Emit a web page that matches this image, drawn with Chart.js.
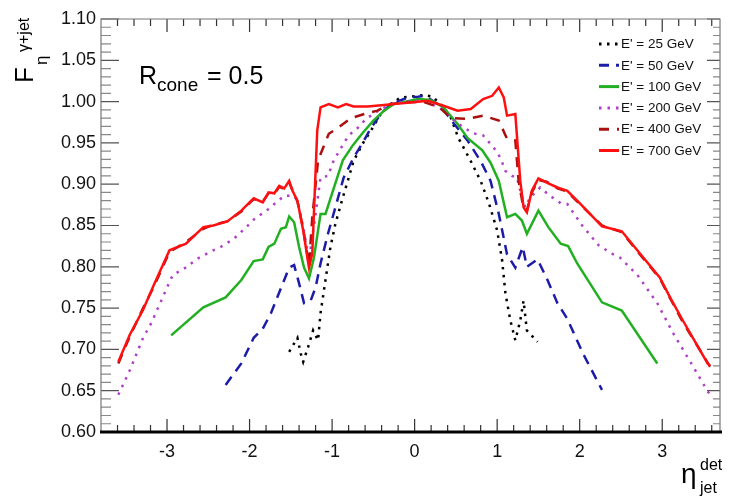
<!DOCTYPE html>
<html>
<head>
<meta charset="utf-8">
<script src="https://cdn.jsdelivr.net/npm/chart.js@4"></script>
<style>
  html, body { margin: 0; padding: 0; background: #fff; }
  #wrap { width: 729px; height: 498px; }
</style>
</head>
<body>
<div id="wrap"><canvas id="grafico"></canvas></div>
<script>
// eta (detector) bins and response values
const eta25 = [-1.52,-1.42,-1.38,-1.35,-1.29,-1.23,-1.17,-1.14,-1.08,-1.02,-0.96,-0.89,-0.81,-0.74,-0.63,-0.51,-0.41,-0.29,-0.17,0.04,0.11,0.22,0.35,0.44,0.53,0.68,0.80,0.90,1.00,1.06,1.10,1.16,1.22,1.28,1.32,1.36,1.49];
const f25 = [0.697,0.714,0.695,0.685,0.703,0.723,0.711,0.744,0.784,0.824,0.852,0.877,0.904,0.928,0.949,0.968,0.985,0.997,1.005,1.007,1.008,1.006,0.993,0.980,0.956,0.928,0.904,0.877,0.844,0.808,0.768,0.735,0.711,0.735,0.759,0.723,0.709];

const eta50 = [-2.29,-2.10,-1.95,-1.84,-1.74,-1.58,-1.52,-1.46,-1.40,-1.34,-1.26,-1.20,-1.14,-1.05,-0.96,-0.86,-0.74,-0.63,-0.53,-0.41,-0.29,-0.08,0.04,0.13,0.31,0.47,0.64,0.80,0.92,1.02,1.12,1.22,1.31,1.36,1.49,1.61,1.73,1.85,2.04,2.27];
const f50 = [0.657,0.683,0.714,0.725,0.744,0.784,0.799,0.802,0.780,0.756,0.759,0.775,0.804,0.840,0.872,0.908,0.932,0.950,0.968,0.985,0.997,1.005,1.006,1.007,0.995,0.974,0.953,0.928,0.904,0.864,0.815,0.799,0.824,0.800,0.809,0.784,0.756,0.737,0.695,0.651];

const eta100 = [-2.95,-2.56,-2.29,-2.10,-1.95,-1.84,-1.77,-1.70,-1.62,-1.56,-1.52,-1.46,-1.40,-1.34,-1.28,-1.22,-1.14,-1.08,-0.99,-0.87,-0.75,-0.63,-0.50,-0.37,-0.25,-0.10,0.04,0.19,0.35,0.52,0.64,0.82,0.92,1.02,1.12,1.22,1.30,1.36,1.50,1.62,1.77,1.86,1.97,2.27,2.51,2.94];
const f100 = [0.717,0.751,0.763,0.784,0.807,0.809,0.824,0.828,0.846,0.848,0.861,0.854,0.824,0.799,0.786,0.811,0.864,0.864,0.892,0.929,0.947,0.962,0.977,0.989,0.997,1.000,1.003,1.002,0.993,0.973,0.956,0.941,0.926,0.904,0.860,0.864,0.856,0.840,0.868,0.848,0.828,0.825,0.804,0.757,0.747,0.683];

const eta200 = [-3.59,-3.45,-3.29,-3.19,-3.07,-2.99,-2.93,-2.79,-2.63,-2.44,-2.35,-2.19,-2.04,-1.94,-1.77,-1.70,-1.58,-1.46,-1.42,-1.35,-1.28,-1.20,-1.14,-1.05,-0.98,-0.89,-0.80,-0.69,-0.59,-0.47,-0.29,-0.10,0.10,0.30,0.44,0.56,0.70,0.83,0.96,1.04,1.10,1.18,1.24,1.28,1.34,1.40,1.52,1.64,1.77,1.85,2.03,2.23,2.39,2.49,2.70,2.94,3.13,3.34,3.54,3.58];
const f200 = [0.645,0.675,0.714,0.732,0.759,0.777,0.790,0.798,0.810,0.820,0.824,0.834,0.848,0.858,0.870,0.876,0.886,0.886,0.880,0.848,0.808,0.864,0.908,0.910,0.929,0.944,0.959,0.968,0.979,0.987,0.997,1.000,1.001,0.993,0.980,0.971,0.962,0.959,0.944,0.932,0.916,0.910,0.908,0.892,0.872,0.884,0.896,0.886,0.877,0.876,0.850,0.826,0.816,0.811,0.790,0.756,0.720,0.685,0.651,0.645];

const eta400 = [-3.59,-3.45,-3.29,-3.16,-2.97,-2.77,-2.56,-2.44,-2.27,-2.10,-1.95,-1.84,-1.77,-1.70,-1.64,-1.58,-1.52,-1.48,-1.42,-1.35,-1.28,-1.24,-1.17,-1.04,-0.93,-0.77,-0.61,-0.45,-0.29,-0.10,0.10,0.30,0.44,0.64,0.83,1.02,1.12,1.22,1.26,1.32,1.36,1.42,1.50,1.60,1.73,1.85,2.00,2.27,2.51,2.73,2.97,3.10,3.25,3.55,3.58];
const f400 = [0.683,0.716,0.750,0.776,0.818,0.830,0.846,0.851,0.855,0.867,0.882,0.879,0.889,0.888,0.897,0.894,0.902,0.893,0.879,0.846,0.802,0.860,0.929,0.961,0.968,0.980,0.985,0.989,0.997,0.999,1.000,0.993,0.980,0.979,0.983,0.977,0.955,0.953,0.904,0.870,0.868,0.890,0.905,0.903,0.895,0.891,0.876,0.850,0.842,0.815,0.786,0.761,0.733,0.684,0.679];

const eta700 = [-3.59,-3.45,-3.29,-3.16,-2.97,-2.77,-2.56,-2.44,-2.27,-2.10,-1.95,-1.84,-1.77,-1.70,-1.64,-1.58,-1.52,-1.48,-1.42,-1.35,-1.28,-1.24,-1.18,-1.14,-1.04,-0.93,-0.83,-0.74,-0.57,-0.37,-0.25,0.07,0.16,0.35,0.52,0.68,0.83,0.94,1.02,1.08,1.12,1.22,1.28,1.32,1.36,1.42,1.50,1.60,1.73,1.85,2.00,2.27,2.51,2.73,2.97,3.10,3.25,3.55,3.58];
const f700 = [0.685,0.718,0.748,0.778,0.820,0.828,0.848,0.850,0.855,0.868,0.883,0.878,0.890,0.889,0.898,0.895,0.904,0.892,0.880,0.844,0.799,0.816,0.965,0.993,0.997,0.993,0.997,0.994,0.994,0.996,0.997,1.000,1.001,0.995,0.989,0.991,1.003,1.007,1.017,1.005,0.983,0.985,0.904,0.872,0.866,0.892,0.907,0.902,0.896,0.892,0.877,0.849,0.843,0.816,0.787,0.762,0.735,0.683,0.680];

const legendLabels = ["E' = 25 GeV", "E' = 50 GeV", "E' = 100 GeV", "E' = 200 GeV", "E' = 400 GeV", "E' = 700 GeV"];
const xTicks = [-3, -2, -1, 0, 1, 2, 3];
const yTicks = [0.60, 0.65, 0.70, 0.75, 0.80, 0.85, 0.90, 0.95, 1.00, 1.05, 1.10];

const FONT = "'Liberation Sans', Arial, Helvetica, sans-serif";

function pts(xs, ys) {
    return xs.map((x, i) => ({ x: x, y: ys[i] }));
}

const series = [
    { data: pts(eta25, f25), color: '#000000', dash: [2.5, 5.5], width: 2.5 },
    { data: pts(eta50, f50), color: '#1c1ca8', dash: [10, 7], width: 2.5 },
    { data: pts(eta100, f100), color: '#22b022', dash: [], width: 2.5 },
    { data: pts(eta200, f200), color: '#b040c8', dash: [2.5, 6], width: 2.5 },
    { data: pts(eta400, f400), color: '#aa1010', dash: [10, 8], width: 2.5 },
    { data: pts(eta700, f700), color: '#ff1010', dash: [], width: 2.5 }
];

const datasets = series.map((s, i) => ({
    label: legendLabels[i],
    data: s.data,
    borderColor: s.color,
    backgroundColor: s.color,
    borderDash: s.dash,
    borderWidth: s.width,
    pointRadius: 0,
    tension: 0,
    fill: false,
    order: series.length - i
}));

// ROOT style decorations: inner ticks, frame, legend and titles
const decor = {
    id: 'decor',
    beforeDatasetsDraw(chart) {
        const ctx = chart.ctx;
        const a = chart.chartArea;
        const sx = chart.scales.x, sy = chart.scales.y;
        ctx.save();
        ctx.lineWidth = 1.2;
        // x ticks, bottom and top
        for (let k = -19; k <= 18; k++) {
            const v = k * 0.2;
            const px = sx.getPixelForValue(v);
            if (px < a.left + 1 || px > a.right - 1) continue;
            const major = Math.abs(v - Math.round(v)) < 1e-6;
            const len = major ? 13 : 7;
            ctx.strokeStyle = '#333';
            ctx.beginPath();
            ctx.moveTo(px, a.bottom); ctx.lineTo(px, a.bottom - len);
            ctx.moveTo(px, a.top); ctx.lineTo(px, a.top + len);
            ctx.stroke();
        }
        // y ticks, left and right
        for (let k = 60; k <= 110; k++) {
            const v = k / 100;
            const py = sy.getPixelForValue(v);
            const major = k % 5 === 0;
            ctx.strokeStyle = major ? '#555' : '#888';
            ctx.beginPath();
            ctx.moveTo(a.left, py); ctx.lineTo(a.left + (major ? 18 : 10), py);
            ctx.moveTo(a.right, py); ctx.lineTo(a.right - (major ? 13 : 7), py);
            ctx.stroke();
        }
        ctx.restore();
    },
    afterDraw(chart) {
        const ctx = chart.ctx;
        const a = chart.chartArea;
        ctx.save();
        // frame
        ctx.strokeStyle = '#777';
        ctx.lineWidth = 1.2;
        ctx.beginPath();
        ctx.moveTo(a.left, a.bottom); ctx.lineTo(a.left, a.top);
        ctx.lineTo(a.right, a.top); ctx.lineTo(a.right, a.bottom);
        ctx.stroke();
        ctx.strokeStyle = '#000';
        ctx.lineWidth = 3;
        ctx.beginPath();
        ctx.moveTo(a.left - 1, a.bottom); ctx.lineTo(a.right + 2, a.bottom);
        ctx.stroke();

        // legend
        ctx.font = '13.5px ' + FONT;
        ctx.textBaseline = 'middle';
        ctx.fillStyle = '#111';
        chart.data.datasets.forEach((ds, i) => {
            const y = 44 + i * 21.3;
            ctx.strokeStyle = ds.borderColor;
            ctx.lineWidth = 3;
            ctx.setLineDash(ds.borderDash);
            ctx.beginPath();
            ctx.moveTo(599, y); ctx.lineTo(619, y);
            ctx.stroke();
            ctx.setLineDash([]);
            ctx.fillText(ds.label, 621, y + 0.5);
        });

        // R_cone = 0.5
        ctx.fillStyle = '#000';
        ctx.textBaseline = 'alphabetic';
        ctx.font = '25px ' + FONT;
        ctx.fillText('R', 139, 84);
        ctx.font = '19px ' + FONT;
        ctx.fillText('cone', 157, 91);
        ctx.font = '25px ' + FONT;
        ctx.fillText('= 0.5', 207, 84);

        // y title F_eta^(gamma+jet)
        ctx.save();
        ctx.translate(33, 83);
        ctx.rotate(-Math.PI / 2);
        ctx.font = '26px ' + FONT;
        ctx.fillText('F', 0, 0);
        ctx.font = '17px ' + FONT;
        ctx.fillText('\u03b7', 18, 14);
        ctx.font = '16px ' + FONT;
        ctx.fillText('\u03b3+jet', 31, -4);
        ctx.restore();

        // x title eta_jet^det
        ctx.font = '28px ' + FONT;
        ctx.fillText('\u03b7', 681, 483);
        ctx.font = '16px ' + FONT;
        ctx.fillText('det', 700, 470);
        ctx.fillText('jet', 700, 493);
        ctx.restore();
    }
};

new Chart(document.getElementById('grafico'), {
    type: 'line',
    data: { datasets: datasets },
    options: {
        responsive: true,
        maintainAspectRatio: false,
        animation: false,
        layout: { padding: { top: 19, right: 9, left: 0, bottom: 0 } },
        plugins: {
            legend: { display: false },
            tooltip: { enabled: false }
        },
        scales: {
            x: {
                type: 'linear',
                min: -3.8,
                max: 3.7,
                afterBuildTicks: (scale) => { scale.ticks = xTicks.map(v => ({ value: v })); },
                afterFit: (scale) => { scale.height = 66; },
                grid: { display: false, drawTicks: false },
                border: { display: false },
                ticks: {
                    autoSkip: false,
                    maxRotation: 0,
                    padding: 9,
                    color: '#111',
                    font: { family: FONT, size: 18 },
                    callback: (v) => String(v)
                }
            },
            y: {
                min: 0.6,
                max: 1.1,
                afterBuildTicks: (scale) => { scale.ticks = yTicks.map(v => ({ value: v })); },
                afterFit: (scale) => { scale.width = 101; },
                grid: { display: false, drawTicks: false },
                border: { display: false },
                ticks: {
                    autoSkip: false,
                    padding: 5,
                    color: '#111',
                    font: { family: FONT, size: 18 },
                    callback: (v) => Number(v).toFixed(2)
                }
            }
        }
    },
    plugins: [decor]
});
</script>
</body>
</html>
